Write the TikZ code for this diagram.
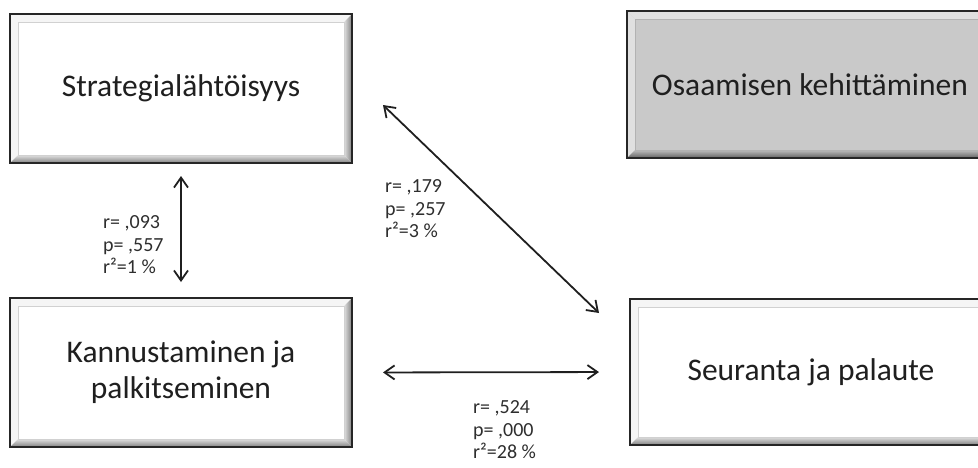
\documentclass[tikz,border=0pt]{standalone}
\usepackage{fontspec}
\setmainfont{Carlito}
\usetikzlibrary{arrows.meta}

% Bevelled frame: light top/left bands, shaded right/bottom bands
% #1 top/left colour, #2 inner shade colour, #3 outer shade colour, #4 inner rim colour
\newcommand\bevelpic[4]{%
  \def\bv{8pt}%
  \path (path picture bounding box.north west) coordinate (pNW)
        (path picture bounding box.north east) coordinate (pNE)
        (path picture bounding box.south west) coordinate (pSW)
        (path picture bounding box.south east) coordinate (pSE);
  \fill[#1] (pNW) -- (pNE) -- ([shift={(-\bv,-\bv)}]pNE) -- ([shift={(\bv,-\bv)}]pNW) -- cycle;
  \fill[#1] (pNW) -- (pSW) -- ([shift={(\bv,\bv)}]pSW) -- ([shift={(\bv,-\bv)}]pNW) -- cycle;
  \shade[left color=#2, right color=#3]
        (pNE) -- (pSE) -- ([shift={(-\bv,\bv)}]pSE) -- ([shift={(-\bv,-\bv)}]pNE) -- cycle;
  \shade[top color=#2, bottom color=#3]
        (pSW) -- (pSE) -- ([shift={(-\bv,\bv)}]pSE) -- ([shift={(\bv,\bv)}]pSW) -- cycle;
  \draw[#4, line width=0.8pt] ([shift={(\bv,-\bv)}]pNW) rectangle ([shift={(-\bv,\bv)}]pSE);
}

\tikzset{
  framebox/.style={draw=black!85, line width=2pt, inner sep=0pt, align=center,
    font=\fontsize{31.5}{36}\selectfont, text=black!88},
  whitebox/.style={framebox, fill=white,
    path picture={\bevelpic{white!96!black}{white!88!black}{black!50}{black!18}}},
  greybox/.style={framebox, fill=black!21,
    path picture={\bevelpic{black!12}{black!26}{black!62}{black!30}}},
  stat/.style={align=left, anchor=west, inner sep=0pt,
    font=\fontsize{20}{22.5}\selectfont, text=black!82},
  link/.style={{Straight Barb[length=10pt,width=14pt]}-{Straight Barb[length=10pt,width=14pt]},
    line width=1.8pt, black!88}
}

\begin{document}
\begin{tikzpicture}[x=1pt,y=-1pt]
\useasboundingbox (0,0) rectangle (978,467);

\node[whitebox, minimum width=342pt, minimum height=149pt] (strat) at (181,88.5) {Strategialähtöisyys};
\node[greybox,  minimum width=366pt, minimum height=147pt] (osaa)  at (810,84.5) {Osaamisen kehittäminen};
\node[whitebox, minimum width=342pt, minimum height=149pt] (kann)  at (181,372.5) {Kannustaminen ja\\palkitseminen};
\node[whitebox, minimum width=362pt, minimum height=146pt] (seur)  at (811,372) {Seuranta ja palaute};

% free ends of the diagonal link
\coordinate (dA) at ([xshift=30pt,yshift=-16.5pt]strat.east);
\coordinate (dB) at ([xshift=-30pt,yshift=59pt]seur.west);

\draw[link, shorten <=12pt, shorten >=15pt] (strat.south) -- (kann.north);
\draw[link] (dA) -- (dB);
\draw[link, shorten <=30pt, shorten >=30pt] (kann.east) -- (seur.west);

\node[stat] (s1) at (103,245) {r= ,093\\p= ,557\\r²=1 \%};
\node[stat] (s2) at (385,209) {r= ,179\\p= ,257\\r²=3 \%};
\node[stat] (s3) at (473,430) {r= ,524\\p= ,000\\r²=28 \%};
\end{tikzpicture}
\end{document}
